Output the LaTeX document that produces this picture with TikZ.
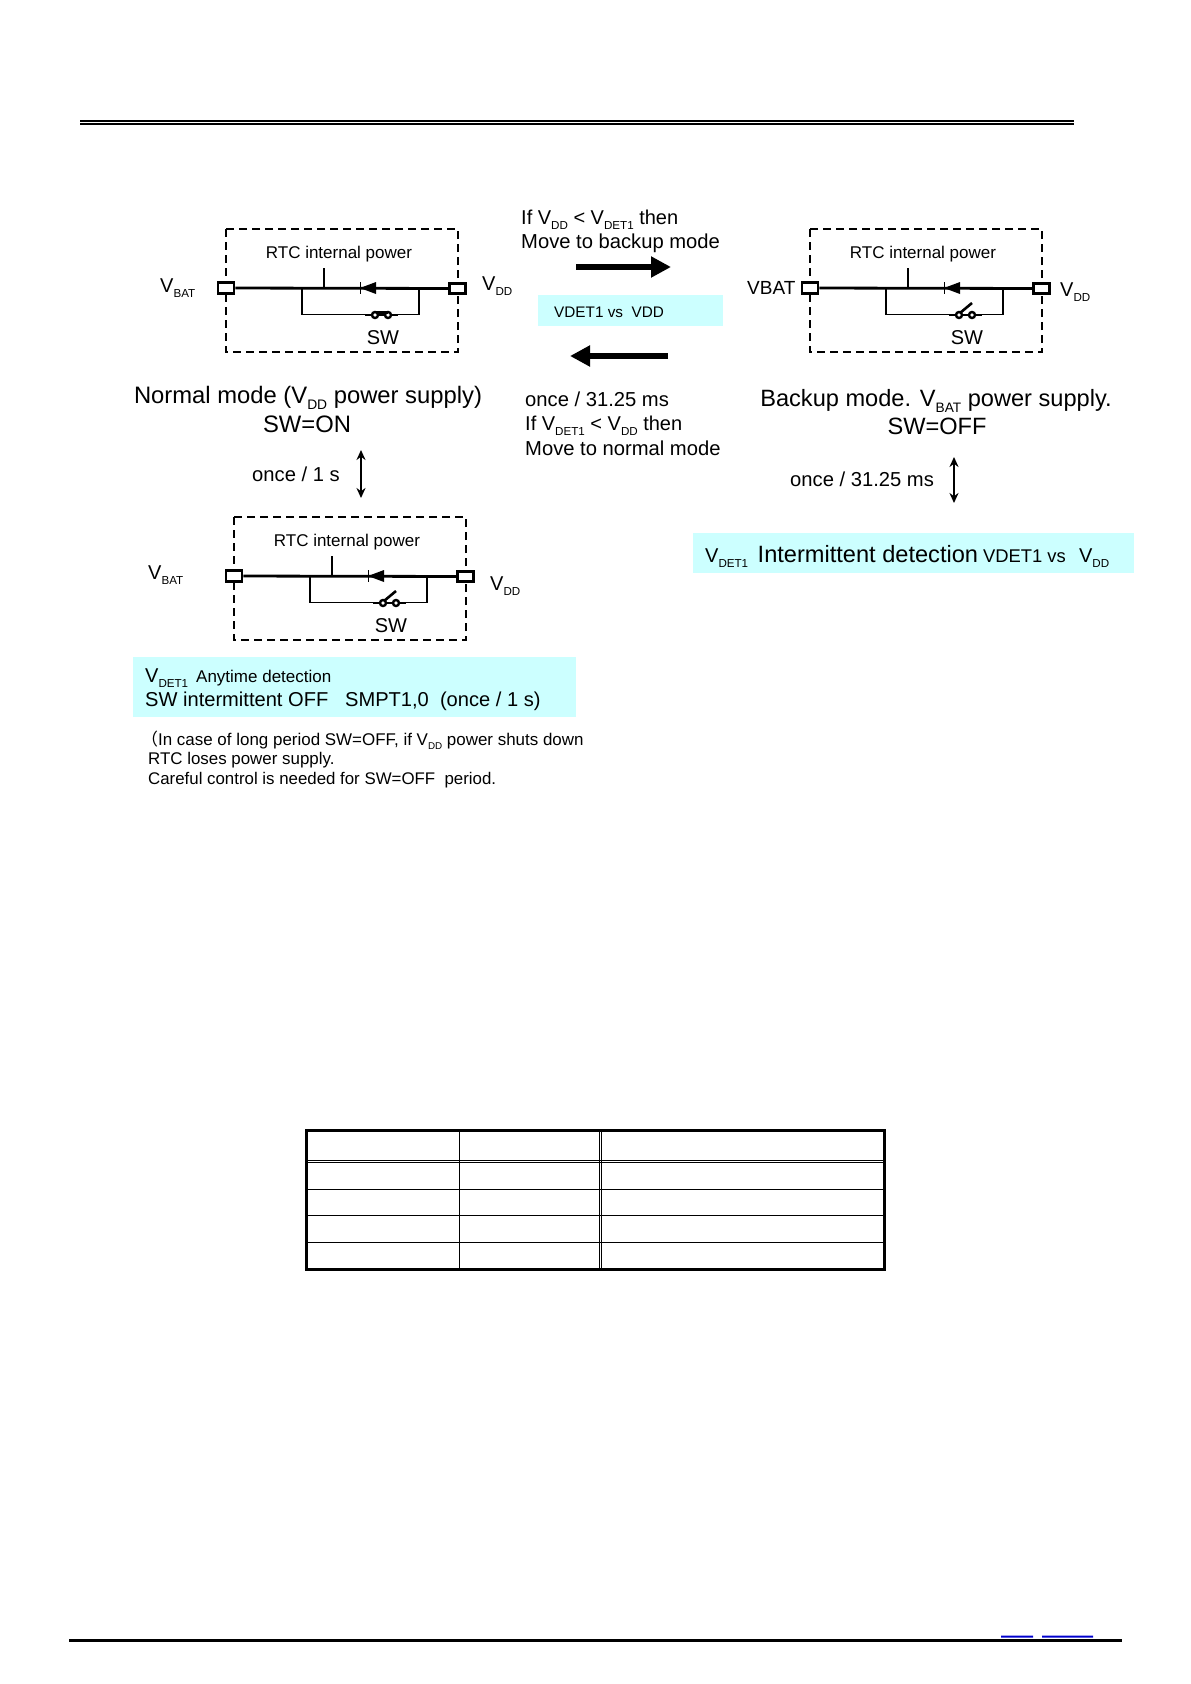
\documentclass[tikz,border=0pt]{standalone}
\usepackage{fontspec}
\setmainfont{Liberation Sans}
\newfontfamily\cjk{Noto Sans CJK SC}
\usetikzlibrary{arrows.meta}
\definecolor{lightcyan}{HTML}{CCFFFF}
\definecolor{linkblue}{HTML}{0000CC}
\newcommand{\fsz}[1]{\fontsize{#1}{#1}\selectfont}
\newcommand{\Vs}[1]{V\raisebox{-.28em}{\fontsize{.58em}{1em}\selectfont #1}}
\tikzset{
  txt/.style={inner sep=0pt,anchor=base west},
  mid/.style={inner sep=0pt,anchor=base},
  term/.style={draw,line width=2.6pt,fill=white,minimum width=16pt,minimum height=10.5pt,inner sep=0pt},
  dashbox/.style={line width=2pt,dash pattern=on 8pt off 5pt},
  wire/.style={line width=1.8pt},
  bigarrow/.style={line width=5.2pt,-{Triangle[length=20pt,width=20pt]}},
  twoway/.style={line width=1.7pt,{Stealth[length=10pt,width=9pt]}-{Stealth[length=10pt,width=9pt]}}
}
\begin{document}
\begin{tikzpicture}[x=1pt,y=-1pt]
  \useasboundingbox (0,0) rectangle (1191,1684);
  % page rules
  \coordinate (R0) at (80,120.7); \coordinate (R1) at (1074,120.7);
  \coordinate (S0) at (80,123.9); \coordinate (S1) at (1074,123.9);
  \coordinate (F0) at (69,1640.5); \coordinate (F1) at (1122,1640.5);
  \draw[line width=1.8pt] (R0)--(R1);
  \draw[line width=2.6pt] (S0)--(S1);
  \draw[line width=2.2pt] (F0)--(F1);
  \fill[linkblue] (1001,1635.5) rectangle (1033,1637.5) (1042,1635.5) rectangle (1093,1637.5);
  % the three circuits
  \foreach \bx/\by/\bn in {0/0/A,584/0/B,8/288/C} {
    \begin{scope}[shift={(\bx,\by)}]
      \draw[dashbox] (226,229) rectangle (458,352);
      \node[term] (VB\bn) at (226,288) {};
      \node[term] (VD\bn) at (457.5,288.5) {};
      \coordinate (TP\bn) at (324,268); \coordinate (TQ\bn) at (324,288);
      \coordinate (JL\bn) at (302,288); \coordinate (JR\bn) at (419,288);
      \coordinate (BL\bn) at (302,314.5); \coordinate (BR\bn) at (419,314.5);
      \coordinate (C0\bn) at (375,315); \coordinate (C1\bn) at (388,315);
      \draw[line width=2.8pt] (VB\bn)--(VD\bn);
      \draw[wire] (TP\bn)--(TQ\bn);
      \draw[wire] (JL\bn)--(BL\bn)--(BR\bn)--(JR\bn);
      \fill (360,288)--(376,282)--(376,294)--cycle;
      \draw[line width=1pt] (360,282)--(360,294);
      \draw[line width=2.6pt] (C0\bn)++(-10,0)--++(33,0);
      \draw[line width=2.4pt,fill=white] (C0\bn) circle (3pt) (C1\bn) circle (3pt);
      \node[inner sep=0pt] (RT\bn) at (339,254) {\fsz{17}RTC internal power};
      \node[inner sep=0pt] (SW\bn) at (383,338) {\fsz{20}SW};
    \end{scope}
  }
  \draw[line width=2.6pt] (C0A)++(1,-2.8)--++(12,0);
  \draw[line width=2.6pt] (C0B)++(1,-2)--++(12,-10);
  \draw[line width=2.6pt] (C0C)++(1,-2)--++(12,-10);
  % terminal labels
  \node[txt] (LA0) at (160,292) {\fsz{20}\Vs{BAT}};
  \node[txt] (LA1) at (482,290) {\fsz{20}\Vs{DD}};
  \node[txt] (LB0) at (747,294) {\fsz{19}VBAT};
  \node[txt] (LB1) at (1060,296) {\fsz{20}\Vs{DD}};
  \node[txt] (LC0) at (148,579) {\fsz{20}\Vs{BAT}};
  \node[txt] (LC1) at (490,590) {\fsz{20}\Vs{DD}};
  % captions
  \node[mid] (CA0) at (308,403) {\fsz{23.8}Normal mode (\Vs{DD} power supply)};
  \node[mid] (CA1) at (307,432) {\fsz{23.8}SW=ON};
  \node[mid] (CB0) at (936,406) {\fsz{23.6}Backup mode. \Vs{BAT} power supply.};
  \node[mid] (CB1) at (937,434) {\fsz{23.6}SW=OFF};
  % middle column
  \node[txt] (M0) at (521,224) {\fsz{20}If \Vs{DD} < \Vs{DET1} then};
  \node[txt] (M1) at (521,248) {\fsz{20.2}Move to backup mode};
  \coordinate (A0) at (576,267); \coordinate (A1) at (671,267);
  \coordinate (B0) at (668,356); \coordinate (B1) at (570,356);
  \draw[bigarrow] (A0)--(A1);
  \draw[bigarrow] (B0)--(B1);
  \fill[lightcyan] (538,295) rectangle (723,326);
  \node[txt] (M2) at (554,317) {\fsz{15.3}VDET1 vs\ \ VDD};
  \node[txt] (M3) at (525,406) {\fsz{20.2}once / 31.25 ms};
  \node[txt] (M4) at (525,430) {\fsz{20}If \Vs{DET1} < \Vs{DD} then};
  \node[txt] (M5) at (525,455) {\fsz{20.2}Move to normal mode};
  % periods
  \node[txt] (P0) at (252,481) {\fsz{20.2}once / 1 s};
  \coordinate (U0) at (361,450); \coordinate (U1) at (361,498);
  \draw[twoway] (U0)--(U1);
  \node[txt] (P1) at (790,486) {\fsz{20.2}once / 31.25 ms};
  \coordinate (W0) at (954,457); \coordinate (W1) at (954,503);
  \draw[twoway] (W0)--(W1);
  % detection bands
  \fill[lightcyan] (693,533) rectangle (1134,573);
  \node[txt] (D0) at (705,562) {\fsz{20}\Vs{DET1}\hspace{9.5pt}{\fsz{23.6}Intermittent detection}\hspace{5pt}{\fsz{18.4}VDET1 vs\ \ }\hspace{3pt}\Vs{DD}};
  \fill[lightcyan] (133,657) rectangle (576,717);
  \node[txt] (D1) at (145,682) {\fsz{20}\Vs{DET1}\hspace{8pt}{\fsz{17}Anytime detection}};
  \node[txt] (D2) at (145,706) {\fsz{20.1}SW intermittent OFF\ \ \ SMPT1,0\ \ (once / 1 s)};
  % note
  \node[txt] (N0) at (141,745) {\fsz{16.95}{\cjk（}\hspace{0pt}In case of long period SW=OFF, if \Vs{DD} power shuts down};
  \node[txt] (N1) at (148,764) {\fsz{16.9}RTC loses power supply.};
  \node[txt] (N2) at (148,784) {\fsz{16.85}Careful control is needed for SW=OFF\ \ period.};
  % empty table
  \coordinate (T0) at (306,1130); \coordinate (T1) at (884.5,1269.5);
  \draw[line width=3pt] (T0) rectangle (T1);
  \foreach \ty in {1160.3,1162.5,1189.3,1215.3,1242.3} \draw[line width=1pt] (306,\ty)--(884.5,\ty);
  \foreach \tx in {459,599.3,601.7} \draw[line width=1pt] (\tx,1130)--(\tx,1269.5);
\end{tikzpicture}
\end{document}
